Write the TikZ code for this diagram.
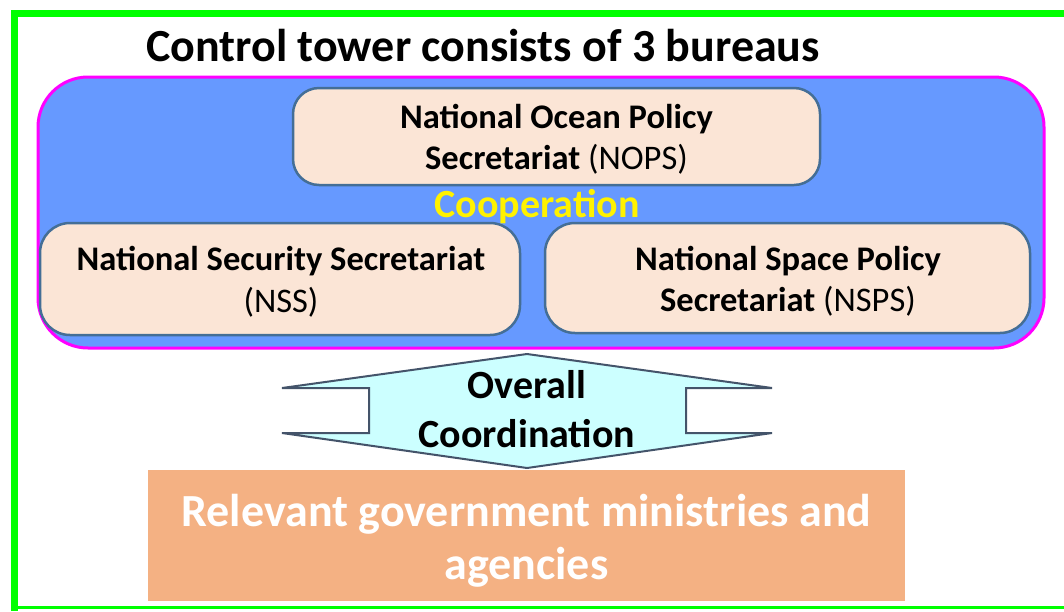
\documentclass[tikz,border=0pt]{standalone}
\usepackage{fontspec}
\setmainfont{Carlito}
\usetikzlibrary{positioning}
\definecolor{framegreen}{RGB}{0,255,0}
\definecolor{towerblue}{RGB}{102,153,255}
\definecolor{towerpink}{RGB}{255,0,255}
\definecolor{bureaufill}{RGB}{251,229,214}
\definecolor{bureauedge}{RGB}{68,110,150}
\definecolor{arrowfill}{RGB}{204,255,255}
\definecolor{arrowedge}{RGB}{68,84,106}
\definecolor{ministryfill}{RGB}{244,177,131}
\tikzset{
	bureau/.style={
			draw=bureauedge, line width=2.5pt, fill=bureaufill,
			rounded corners=26pt
		},
	bureautext/.style={
			align=center, font=\fontsize{34.5}{41}\selectfont
		}
}

\begin{document}
\begin{tikzpicture}[x=1pt,y=-1pt]
		\useasboundingbox (0,0) rectangle (1064,611);
		\clip (0,0) rectangle (1064,611);

		% Outer frame (right side runs off the page)
		\draw[framegreen, line width=7pt] (14,611) -- (14,13) -- (1070,13);
		\draw[framegreen, line width=3pt] (14,607) -- (1070,607);

		% Title
		\node (title) at (483,46) {\fontsize{46}{52}\selectfont\bfseries Control tower consists of 3 bureaus};

		% Control tower with its 3 bureaus
		\node[draw=towerpink, line width=3pt, fill=towerblue, rounded corners=50pt,
			minimum width=1006pt, minimum height=271pt] (tower) at (541,212.5) {};
		\node[bureau, minimum width=527pt, minimum height=97pt] (nops) at (556.5,136.5) {};
		\node[bureautext] (nopstext) at (556.5,139.5)
		{\textbf{National Ocean Policy}\\\textbf{Secretariat}\ (NOPS)};
		\node[bureau, minimum width=480pt, minimum height=112pt, rounded corners=30pt] (nss) at (280,279) {};
		\node[bureautext, font=\fontsize{34.5}{42}\selectfont] (nsstext) at (281,282)
		{\textbf{National Security Secretariat}\\(NSS)};
		\node[bureau, minimum width=485pt, minimum height=110pt, rounded corners=30pt] (nsps) at (787.5,278) {};
		\node[bureautext] (nspstext) at (788,281)
		{\textbf{National Space Policy}\\\textbf{Secretariat}\ (NSPS)};
		\node[text=yellow, font=\fontsize{40}{44}\selectfont\bfseries] (coop) at (537,207) {Cooperation};

		% Overall coordination (up/down arrow)
		\draw[arrowedge, line width=2pt, fill=arrowfill]
		(527,354) -- (282,388) -- (369,388) -- (369,433) -- (282,433)
		-- (527,468) -- (772,433) -- (686,433) -- (686,388) -- (772,388) -- cycle;
		\node[align=center, font=\fontsize{40}{49}\selectfont\bfseries] (coordination) at (527,409)
		{Overall\\Coordination};

		% Ministries and agencies
		\node[fill=ministryfill, minimum width=757pt, minimum height=131pt] (ministries) at (526.5,535.5) {};
		\node[align=center, text=white, font=\fontsize{46}{53}\selectfont\bfseries] (ministriestext) at (526.5,540.5)
		{Relevant government ministries and\\agencies};
	\end{tikzpicture}
\end{document}
